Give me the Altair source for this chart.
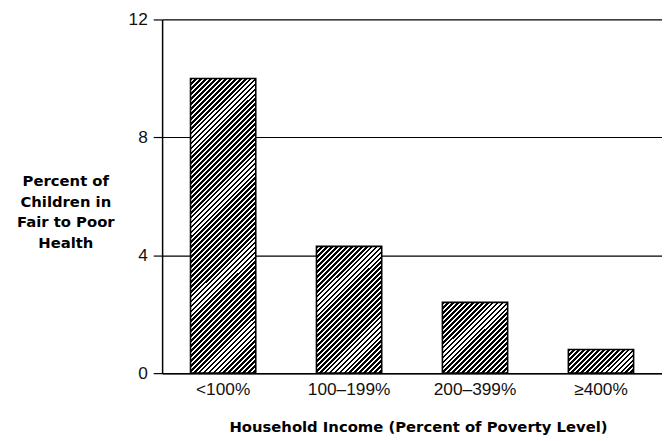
import math
import altair as alt
import pandas as pd

categories = ["<100%", "100–199%", "200–399%", "≥400%"]
values = [10.0, 4.3, 2.4, 0.8]
y_ticks = [0, 4, 8, 12]
y_title = ["Percent of", "Children in", "Fair to Poor", "Health"]
x_title = "Household Income (Percent of Poverty Level)"

df = pd.DataFrame({"cat": categories, "val": values})

PLOT_W = 506
PLOT_H = 358
Y_MAX = 12
PX_PER_UNIT = PLOT_H / Y_MAX
BAR_W = 66
STRIPE_PERIOD = 5.0
BLACK_FRAC = 0.55


def hatch(v):
    h = max(v * PX_PER_UNIT, 1.0)
    w = BAR_W
    k = (w + h) / (w * w + h * h)
    n = (w + h) / STRIPE_PERIOD
    stops = []
    i = 0
    while i / n < 1:
        t0 = i / n
        t1 = min((i + BLACK_FRAC) / n, 1.0)
        t2 = min((i + 1) / n, 1.0)
        stops += [
            {"offset": t0, "color": "#000000"},
            {"offset": t1, "color": "#000000"},
            {"offset": t1, "color": "#ffffff"},
            {"offset": t2, "color": "#ffffff"},
        ]
        i += 1
    return {"gradient": "linear", "x1": 0, "y1": 0, "x2": w * k, "y2": h * k, "stops": stops}


x_enc = alt.X(
    "cat:N",
    sort=categories,
    scale=alt.Scale(domain=categories, paddingInner=0.482, paddingOuter=0.2255),
    axis=alt.Axis(
        title=x_title,
        labelAngle=0,
        labelFont="Liberation Sans",
        labelFontSize=17.5,
        labelColor="#111111",
        labelPadding=8,
        ticks=False,
        tickSize=0,
        domain=True,
        domainColor="#000000",
        domainWidth=1.5,
        titleFont="DejaVu Sans",
        titleFontSize=15,
        titleFontWeight="bold",
        titleColor="#000000",
        titleX=259,
        titleY=59,
        titleAlign="center",
        titleBaseline="alphabetic",
        grid=False,
    ),
)

y_enc = alt.Y(
    "val:Q",
    scale=alt.Scale(domain=[0, Y_MAX], nice=False),
    axis=alt.Axis(
        title=y_title,
        values=y_ticks,
        labelFont="Liberation Sans",
        labelFontSize=17.5,
        labelColor="#111111",
        labelPadding=6,
        tickSize=9,
        tickColor="#000000",
        tickWidth=1.2,
        domainColor="#000000",
        domainWidth=1.5,
        grid=True,
        gridColor="#000000",
        gridWidth=1.2,
        gridOpacity=1,
        titleAngle=0,
        titleFont="DejaVu Sans",
        titleFontSize=15,
        titleFontWeight="bold",
        titleColor="#000000",
        titleAlign="center",
        titleBaseline="alphabetic",
        titleLineHeight=21,
        titleX=-98,
        titleY=168,
    ),
)

layers = []
for c, v in zip(categories, values):
    layers.append(
        alt.Chart(df)
        .transform_filter(alt.datum.cat == c)
        .mark_bar(fill=hatch(v), stroke="#000000", strokeWidth=1.6)
        .encode(x=x_enc, y=y_enc)
    )

chart = (
    alt.layer(*layers)
    .properties(
        width=PLOT_W,
        height=PLOT_H,
        autosize=alt.AutoSizeParams(type="none"),
        padding={"left": 156, "top": 9, "right": 0, "bottom": 60},
        background="#ffffff",
    )
    .configure_view(stroke=None)
)

chart.save("out.html", embed_options={"renderer": "svg", "actions": False})
